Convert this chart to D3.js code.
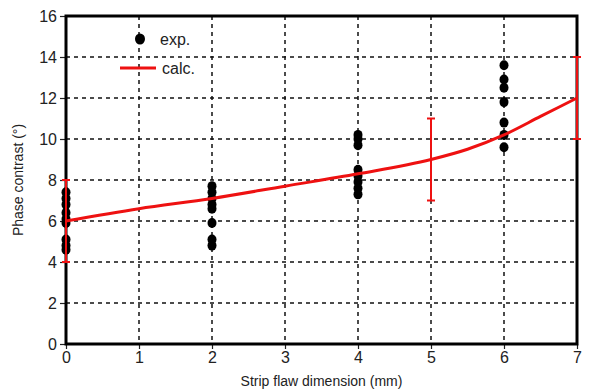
<!DOCTYPE html>
<html>
<head>
<meta charset="utf-8">
<script src="https://cdn.jsdelivr.net/npm/d3@7"></script>
<style>
    body { margin: 0; background: #fff; }
    svg text { font-family: "Liberation Sans", Arial, sans-serif; fill: #222; }
</style>
</head>
<body>
<svg id="chart" width="590" height="391"></svg>
<script>
// measured phase contrast, grouped by flaw dimension
const expX = [0, 0, 0, 0, 0, 0, 0, 0, 0,
    2, 2, 2, 2, 2, 2, 2, 2,
    4, 4, 4, 4, 4, 4, 4, 4,
    6, 6, 6, 6, 6, 6, 6];
const expY = [7.4, 7.1, 6.8, 6.4, 6.1, 5.9, 5.1, 4.8, 4.6,
    7.7, 7.4, 7.1, 6.8, 6.6, 5.9, 5.1, 4.8,
    10.2, 10.0, 9.7, 8.5, 8.2, 7.9, 7.6, 7.3,
    13.6, 12.9, 12.5, 11.8, 10.8, 10.2, 9.6];

// calculated curve
const calcX = [0, 1, 2, 3, 4, 5, 5.5, 6, 6.5, 7];
const calcY = [6.0, 6.6, 7.1, 7.7, 8.3, 9.0, 9.5, 10.2, 11.1, 12.0];

// error bars on calc curve
const errX = [0, 5, 7];
const errLo = [4, 7, 10];
const errHi = [8, 11, 14];

const xTicks = [0, 1, 2, 3, 4, 5, 6, 7];
const yTicks = [0, 2, 4, 6, 8, 10, 12, 14, 16];

const margin = {top: 16, right: 13, bottom: 47, left: 66};
const width = 590 - margin.left - margin.right;
const height = 391 - margin.top - margin.bottom;

const svg = d3.select("#chart");
const g = svg.append("g").attr("transform", `translate(${margin.left},${margin.top})`);

const x = d3.scaleLinear().domain([0, 7]).range([0, width]);
const y = d3.scaleLinear().domain([0, 16]).range([height, 0]);

// dashed grid
g.append("g").selectAll("line").data(xTicks.slice(1, -1)).join("line")
    .attr("x1", d => x(d)).attr("x2", d => x(d))
    .attr("y1", 0).attr("y2", height)
    .attr("stroke", "#111").attr("stroke-width", 1.5).attr("stroke-dasharray", "4,4");
g.append("g").selectAll("line").data(yTicks.slice(1, -1)).join("line")
    .attr("x1", 0).attr("x2", width)
    .attr("y1", d => y(d)).attr("y2", d => y(d))
    .attr("stroke", "#111").attr("stroke-width", 1.5).attr("stroke-dasharray", "4,4");

// axes
const xAxis = g.append("g").attr("transform", `translate(0,${height})`)
    .call(d3.axisBottom(x).tickValues(xTicks).tickFormat(d3.format("d")).tickSize(5).tickPadding(3));
const yAxis = g.append("g")
    .call(d3.axisLeft(y).tickValues(yTicks).tickSize(6).tickPadding(3));
[xAxis, yAxis].forEach(a => {
    a.select(".domain").remove();
    a.selectAll("line").attr("stroke", "#222").attr("stroke-width", 1.2);
    a.selectAll("text").attr("font-size", 16).style("font-family", "Liberation Sans, Arial, sans-serif").attr("fill", "#222");
});

// frame
g.append("rect").attr("x", 0).attr("y", 0).attr("width", width).attr("height", height)
    .attr("fill", "none").attr("stroke", "#000").attr("stroke-width", 3);

// exp points
g.append("g").selectAll("ellipse").data(expX).join("ellipse")
    .attr("cx", d => x(d)).attr("cy", (d, i) => y(expY[i]))
    .attr("rx", 4.5).attr("ry", 5).attr("fill", "#000");

// calc line
const line = d3.line().x(d => x(d[0])).y(d => y(d[1])).curve(d3.curveMonotoneX);
g.append("path").datum(d3.zip(calcX, calcY)).attr("d", line)
    .attr("fill", "none").attr("stroke", "#ee1111").attr("stroke-width", 3);

// error bars
const eb = g.append("g").attr("stroke", "#ee1111").attr("stroke-width", 2);
errX.forEach((v, i) => {
    eb.append("line").attr("x1", x(v)).attr("x2", x(v)).attr("y1", y(errLo[i])).attr("y2", y(errHi[i]));
    [errLo[i], errHi[i]].forEach(e => {
        eb.append("line").attr("x1", x(v) - 4).attr("x2", x(v) + 4).attr("y1", y(e)).attr("y2", y(e));
    });
});

// legend
svg.append("ellipse").attr("cx", 140).attr("cy", 39).attr("rx", 5).attr("ry", 5.5).attr("fill", "#000");
svg.append("text").attr("x", 160).attr("y", 45).attr("font-size", 16).text("exp.");
svg.append("line").attr("x1", 120).attr("x2", 156).attr("y1", 68).attr("y2", 68)
    .attr("stroke", "#ee1111").attr("stroke-width", 3);
svg.append("text").attr("x", 162).attr("y", 74).attr("font-size", 16).text("calc.");

// axis titles
svg.append("text").attr("x", margin.left + width / 2).attr("y", 386)
    .attr("text-anchor", "middle").attr("font-size", 14).text("Strip flaw dimension (mm)");
svg.append("text").attr("transform", "translate(23,180) rotate(-90)")
    .attr("text-anchor", "middle").attr("font-size", 14).text("Phase contrast (°)");
</script>
</body>
</html>
